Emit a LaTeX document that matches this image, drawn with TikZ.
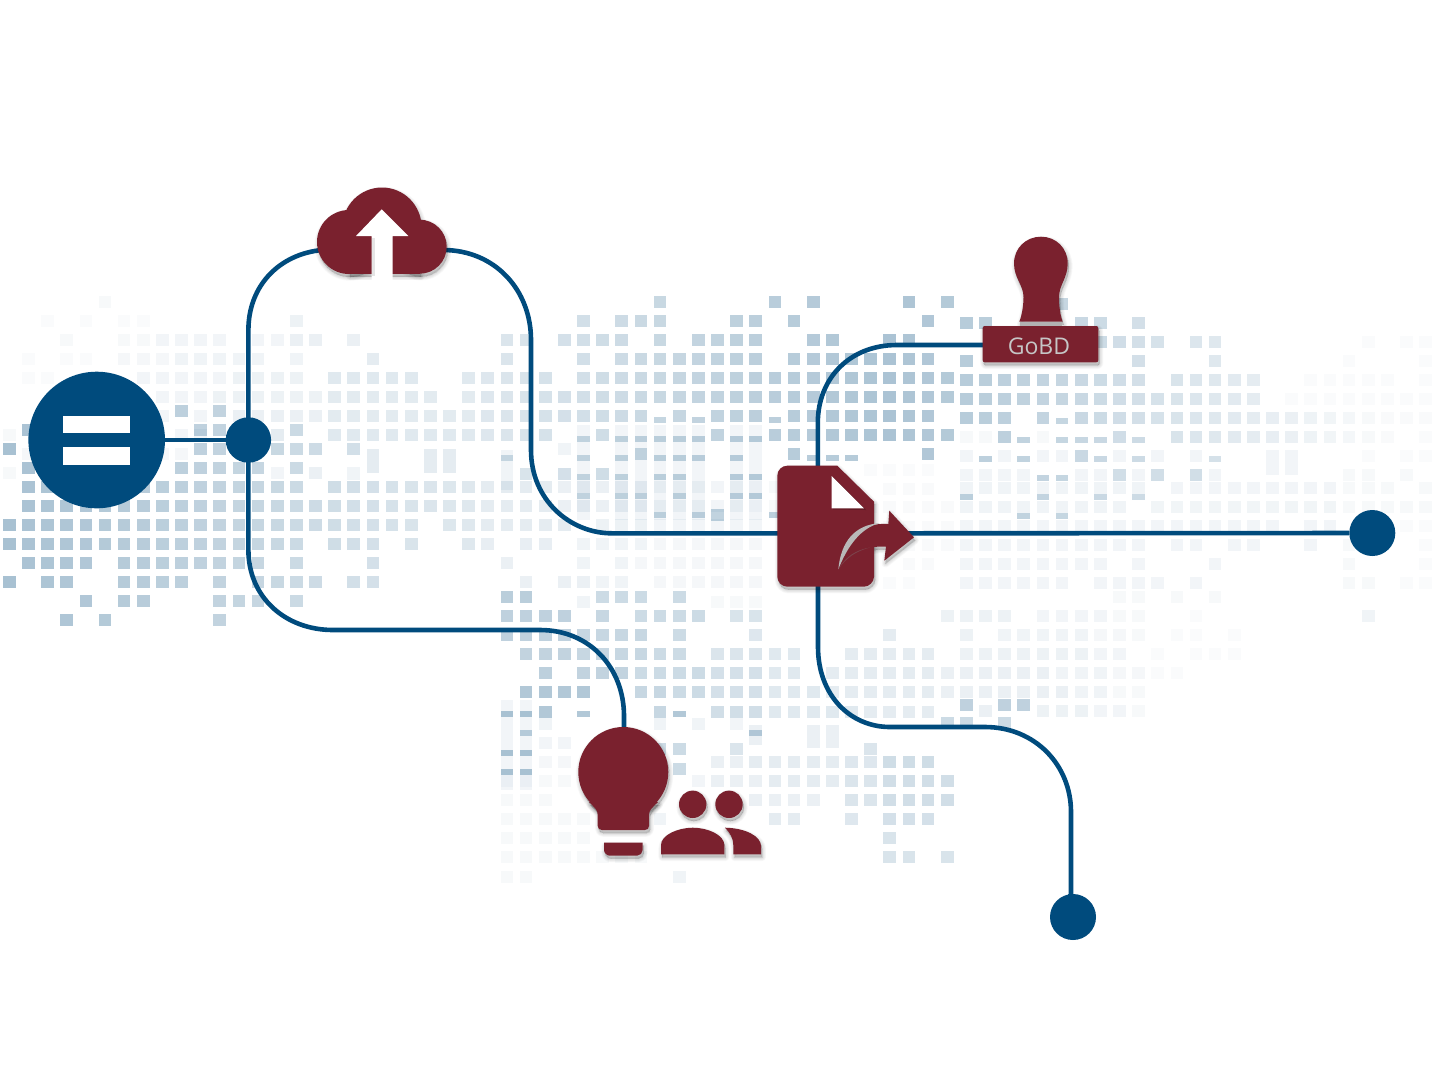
\documentclass[tikz,border=0pt]{standalone}
\usepackage{fontspec}
\newfontfamily\stampfont{Open Sans}
\definecolor{bm}{HTML}{004B7D}
\definecolor{wine}{HTML}{7A212E}
\tikzset{
  hubnode/.style={circle,fill=bm,inner sep=0pt,minimum size=#1},
  wire/.style={draw=bm,line width=4.6pt},
}
\newcommand{\sqR}[3]{\foreach \kk in {#3}{\pgfmathsetmacro{\xx}{9.3+19.14*\kk}\fill[bm,opacity=#2] (\xx-6.35,#1-6.35) rectangle ++(12.7,12.7);}}
\newcommand{\rowL}[2]{\foreach \kk in {#2}{\pgfmathsetmacro{\xx}{9.3+19.14*\kk}\pgfmathsetmacro{\oo}{.34-.009*\kk}\fill[bm,opacity=\oo] (\xx-6.35,#1-6.35) rectangle ++(12.7,12.7);}}
\newcommand{\rowC}[2]{\foreach \kk in {#2}{\pgfmathsetmacro{\xx}{9.3+19.14*\kk}\pgfmathsetmacro{\oo}{max(.025,.33-(\kk<46?.0095:.012)*abs(\kk-46))}\fill[bm,opacity=\oo] (\xx-6.35,#1-6.35) rectangle ++(12.7,12.7);}}
\newcommand{\slv}[2]{\foreach \kk in {#2}{\pgfmathsetmacro{\xx}{9.3+19.14*\kk}\pgfmathsetmacro{\oo}{max(.12,.30-(\kk<46?.006:.008)*abs(\kk-46))}\fill[bm,opacity=\oo] (\xx-6.35,#1-3) rectangle ++(12.7,6);}}
\newcommand{\tallc}[4]{\foreach \kk in {#4}{\pgfmathsetmacro{\xx}{9.3+19.14*\kk}\fill[bm,opacity=#3] (\xx-6.35,#1) rectangle (\xx+6.35,#2);}}
\newcommand{\shadowof}[1]{\foreach \w in {0,1.5,3,4.5,6,7.5}{\path[fill=black,draw=black,line width=\w pt,opacity=.028,line join=round,shift={(1.2,3)}] #1;}}
\newcommand{\solid}[1]{\path[fill=wine] #1;}
\begin{document}
\begin{tikzpicture}[x=1pt,y=-1pt]
\useasboundingbox (0,0) rectangle (1440,1080);
\fill[white] (0,0) rectangle (1440,1080);
% ---- left faint layer
\sqR{302}{.03}{5}
\sqR{321}{.02}{2,4,6,7}\sqR{321}{.07}{15}
\sqR{340}{.03}{3,6,7}\sqR{340}{.05}{8,9,10,11,13,14}\sqR{340}{.08}{15,16,18}
\sqR{359}{.02}{1,3,4}\sqR{359}{.04}{6,7,8}\sqR{359}{.06}{9,10,11,12,13,15}\sqR{359}{.1}{19}
\sqR{378}{.02}{1,2}\sqR{378}{.05}{7,8,9,10,11}\sqR{378}{.07}{12,13,14,15}\sqR{378}{.12}{17,18,19,20,21,24}
\sqR{397}{.05}{8,9,10}\sqR{397}{.07}{11,...,16}\sqR{397}{.11}{17,...,22,24}
\sqR{416}{.05}{8,10}\sqR{416}{.08}{12,13,14,15,16}\sqR{416}{.11}{17,...,24}
\sqR{435}{.03}{0}\sqR{435}{.05}{9,10}\sqR{435}{.1}{14}\sqR{435}{.12}{17,...,24}
\sqR{454}{.04}{1,8,9}
\sqR{473}{.03}{0}\sqR{473}{.05}{14}\sqR{473}{.08}{16}
\tallc{449}{473}{.1}{19,22,23}\tallc{467}{480}{.06}{18}
% ---- left dark layer
\rowL{411}{9,11}
\rowL{430}{1,10,11,15}
\rowL{449}{0,10,11,12,14,15,16,18}
\rowL{468}{1,9,10,11,12,13,15}
\rowL{487}{1,...,15}\rowL{487}{17,...,24}
\rowL{506}{1,...,24}
\rowL{525}{0,...,21,23,24}
\rowL{544}{0,...,15,17,18,19,21,24}
\rowL{563}{1,2,3,4,6,7,8,9,10,11,12,13,15,19}
\rowL{582}{0,2,3,6,7,8,9,11,13,14,15,16,18,19}
\rowL{601}{4,6,7,11,12,13,15}
\rowL{620}{3,5,11}
% ---- central upper
\rowC{302}{34,40,42,47,49}
\rowC{321}{30,32,33,34,38,39,41,48}
\rowC{340}{26,27,29,30,31,32,34,36,37,38,39,42,43,46,47}
\rowC{359}{26,30,32,33,34,35,36,37,38,39}\rowC{359}{41,...,48}
\rowC{378}{25,...,28}\rowC{378}{30,...,49}
\rowC{397}{25,...,49}
\rowC{416}{25,...,33,35,37,38,39}\rowC{416}{41,...,48}
\slv{420}{34,36,40}
\rowC{435}{25,26,27,28,31,37}\rowC{435}{40,...,49}
\slv{439}{30,32,33,34,35,36,38,39}
\rowC{454}{33,41,48}
\slv{458}{26,30,32,34,35,36,38,42,43,44}
\rowC{474}{27,29,31}
\slv{477}{30,32,34,35,38,39}
\slv{496}{30,32,33,35,38,39}
\slv{515}{34,36,40}\rowC{515}{37}
\tallc{425}{520}{.05}{30,32,33,34,35,36,38,39}\tallc{450}{490}{.06}{26}
\sqR{449}{.06}{29}
% ---- central faint
\sqR{487}{.1}{25,...,28}\sqR{487}{.08}{29,...,33}\sqR{487}{.05}{34,...,38}\sqR{487}{.03}{39,...,42}
\sqR{506}{.1}{25,...,28}\sqR{506}{.08}{29,...,33}\sqR{506}{.05}{34,...,38}\sqR{506}{.03}{39,...,42}
\sqR{525}{.1}{25,...,29}\sqR{525}{.07}{31,32,33}\sqR{525}{.05}{34,...,39}
\sqR{544}{.09}{25,27,28}\sqR{544}{.06}{30,...,33}\sqR{544}{.04}{34,...,39}
\sqR{563}{.08}{26}\sqR{563}{.06}{30,32}\sqR{563}{.04}{33,...,39}
\sqR{582}{.08}{27,29,30}\sqR{582}{.06}{31,32}\sqR{582}{.04}{34,...,39}
\sqR{470}{.02}{45,46,47,48}\sqR{489}{.025}{46,47,48}\sqR{507}{.025}{45,...,49}
\sqR{527}{.025}{46,...,49}\sqR{545}{.025}{47,48,49}\sqR{564}{.025}{47,48}\sqR{583}{.02}{46,47}
% ---- central lower
\sqR{597}{.27}{26,27}\sqR{597}{.2}{31,32,33,35}\sqR{602}{.06}{30}\sqR{602}{.03}{37,38,39}
\sqR{616}{.25}{26,27,28,29}\sqR{616}{.22}{31}\sqR{616}{.2}{33,34,35,36}\sqR{616}{.15}{38,39}
\sqR{635}{.25}{26,27,28,29}\sqR{635}{.22}{30,31,32,33}\sqR{635}{.2}{35}\sqR{635}{.13}{39}\sqR{635}{.1}{46}
\sqR{654}{.24}{27,28,29}\sqR{654}{.22}{30,...,33}\sqR{654}{.2}{34,35}\sqR{654}{.14}{37,38,39}\sqR{654}{.12}{40,41}\sqR{654}{.1}{44,...,48}
\sqR{673}{.26}{28}\sqR{673}{.24}{30,31,32}\sqR{673}{.2}{33,...,36}\sqR{673}{.17}{37,38,39}\sqR{673}{.12}{40,41}\sqR{673}{.1}{43,...,48}
\sqR{692}{.3}{27,28,29,30}\sqR{692}{.22}{33,34}\sqR{692}{.2}{35,36}\sqR{692}{.17}{37,38,39}\sqR{692}{.12}{40,41,42}\sqR{692}{.1}{43,...,48}
\sqR{712}{.3}{28}\sqR{712}{.22}{34}\sqR{712}{.18}{37,38,39}\sqR{712}{.12}{40,...,44}\sqR{712}{.1}{45,...,48}
\foreach \yy in {714,753,772}{\foreach \kk in {26,27}{\pgfmathsetmacro{\xx}{9.3+19.14*\kk}\fill[bm,opacity=.3] (\xx-6.35,\yy-3) rectangle ++(12.7,6);}}
\foreach \kk in {30,35}{\pgfmathsetmacro{\xx}{9.3+19.14*\kk}\fill[bm,opacity=.3] (\xx-6.35,711) rectangle ++(12.7,6);}
\foreach \kk in {27,39}{\pgfmathsetmacro{\xx}{9.3+19.14*\kk}\fill[bm,opacity=.25] (\xx-6.35,730) rectangle ++(12.7,6);}
\tallc{700}{790}{.05}{26,27}
\sqR{724}{.06}{28,34,36}\sqR{724}{.05}{38}
\sqR{743}{.05}{28,29}\tallc{725}{748}{.08}{42,43}
\sqR{749}{.2}{34,35}\sqR{749}{.14}{38,45}\tallc{725}{745}{.08}{39}
\sqR{762}{.04}{28,29}\sqR{762}{.08}{37,38}\sqR{762}{.1}{39,...,43}\sqR{762}{.13}{44,45}\sqR{762}{.19}{46,47,48}
\sqR{769}{.2}{35}
\sqR{781}{.03}{26,...,29}\sqR{781}{.05}{36}\sqR{781}{.08}{37,38,39}\sqR{781}{.1}{40,...,43}\sqR{781}{.14}{44,45}\sqR{781}{.18}{46,...,49}
\sqR{800}{.03}{26,27,28}\sqR{800}{.08}{39,...,42}\sqR{800}{.14}{44,45}\sqR{800}{.18}{46,...,49}
\sqR{819}{.03}{26,...,30}\sqR{819}{.06}{34}\sqR{819}{.1}{40,41}\sqR{819}{.13}{44}\sqR{819}{.17}{46,47,48}
\sqR{838}{.03}{26,...,30}\sqR{838}{.15}{46}
\sqR{857}{.03}{26,...,33}\sqR{857}{.15}{46,47,49}
\sqR{877}{.03}{26,27}\sqR{877}{.06}{35}
% ---- right block
\rowC{323}{50,51,56,57,59}\rowC{304}{55}
\rowC{342}{57,58,59,60,62,63}\sqR{342}{.02}{71,73,74}
\rowC{361}{50,59,63}\sqR{361}{.02}{70,74}
\rowC{380}{50,...,59}\rowC{380}{61,...,65}\sqR{380}{.02}{68,...,72,74}
\rowC{399}{50,...,65}\sqR{399}{.02}{67,...,74}
\rowC{418}{50,51,52,54}\rowC{418}{56,...,74}\slv{421}{55}
\rowC{437}{52,58}\rowC{437}{61,...,72}\slv{440}{53,55,56,57,59}\sqR{437}{.03}{50,51,54}\sqR{437}{.02}{74}
\rowC{456}{56}\slv{459}{51,53,57,59,63}\sqR{456}{.05}{50,52,54,55,58,60,62}\sqR{456}{.02}{71,73,74}
\sqR{475}{.18}{58,60,62}\slv{478}{54,55}\sqR{475}{.05}{50,51,52,53,56,57,59,63}\tallc{450}{475}{.05}{66,67}\sqR{475}{.03}{70,71,73}
\sqR{488}{.06}{50,...,59}\sqR{488}{.05}{61,...,69}\sqR{488}{.03}{70,71,72,74}
\slv{497}{50,54,57,59}
\sqR{507}{.06}{50,...,58}\sqR{507}{.055}{60,...,69}\sqR{507}{.03}{70,...,74}
\slv{516}{53,55}
\sqR{526}{.05}{50,...,66,68,69}\sqR{526}{.02}{73,74}
\sqR{545}{.05}{50,...,59,61,62,64,65,68}\sqR{545}{.03}{70}\sqR{545}{.02}{74}
\sqR{564}{.05}{50,...,57,59,63}\sqR{564}{.03}{70}\sqR{564}{.02}{74}
\sqR{583}{.05}{50,...,55,57,58,59,60,62}\sqR{583}{.03}{70,71}\sqR{583}{.02}{73,74}
\sqR{597}{.03}{58,59,61,63}
\sqR{616}{.07}{49,50,51,52}\sqR{616}{.05}{54,...,57}\sqR{616}{.03}{58,59}\sqR{616}{.02}{62}\sqR{616}{.06}{71}
\sqR{635}{.07}{50}\sqR{635}{.06}{52,...,56}\sqR{635}{.04}{57,58}\sqR{635}{.03}{59}\sqR{635}{.02}{61,62,64}
\sqR{654}{.07}{50,...,56}\sqR{654}{.05}{57,58}\sqR{654}{.02}{60,62,63,64}
\sqR{673}{.08}{49,...,54}\sqR{673}{.06}{55,56,57}\sqR{673}{.04}{58,59}\sqR{673}{.02}{60,61}
\sqR{692}{.08}{49,...,55}\sqR{692}{.06}{56,57}\sqR{692}{.03}{58,59}
\sqR{705}{.25}{50,52,53}
\sqR{711}{.08}{51}\sqR{711}{.07}{54,55,56}\sqR{711}{.05}{57,58}\sqR{711}{.03}{59}
\sqR{723}{.2}{49,50,52}
% ---- anchors on the icons
\coordinate (cloudL) at (322,250);
\coordinate (cloudR) at (443,250);
\coordinate (docL) at (780,533.3);
\coordinate (docR) at (905,533.3);
\coordinate (docT) at (817.8,470);
\coordinate (docB) at (818,584);
\coordinate (stampL) at (985,345);
\coordinate (bulbT) at (624,730);
% ---- nodes
\node[hubnode=136.6pt] (src) at (96.7,440) {};
\node[hubnode=45.4pt] (hub) at (248.4,440) {};
\node[hubnode=46pt] (endR) at (1372.3,533) {};
\node[hubnode=46pt] (endB) at (1073,917) {};
% ---- connectors
\draw[wire] (src) -- (hub);
\draw[wire] (hub.center) -- (248.4,330) .. controls (248.4,285) and (280,254) .. (cloudL);
\draw[wire] (cloudR) .. controls (495,250) and (531,290) .. (531,340) -- (531,450) .. controls (531,500) and (570,533.3) .. (612,533.3) -- (docL);
\draw[wire] (docR) -- (endR);
\draw[wire] (hub.center) -- (248.4,550) .. controls (248.4,597) and (285,630) .. (333,630) -- (540,630) .. controls (590,630) and (624,668) .. (624,716) -- (bulbT);
\draw[wire] (docB) -- (818,647) .. controls (818,695) and (850,727) .. (890,727) -- (985,727) .. controls (1035,727) and (1071,765) .. (1071,812) -- (1071,900) -- (endB);
\draw[wire] (docT) -- (817.8,423) .. controls (817.8,378) and (850,345) .. (897,345) -- (stampL);
% bars of the source node
\fill[white] (62.7,415.7) rectangle (130,433.3);
\fill[white] (62.7,447) rectangle (130,464.7);
% ---- cloud icon
\shadowof{(349,242) circle[radius=32]}
\shadowof{(382,227) circle[radius=39.5]}
\shadowof{(419.7,246.7) circle[radius=27]}
\shadowof{(349,240) rectangle (420,273.7)}
\solid{(349,242) circle[radius=32]}
\solid{(382,227) circle[radius=39.5]}
\solid{(419.7,246.7) circle[radius=27]}
\solid{(349,240) rectangle (420,273.7)}
\fill[white] (381.7,209.3) -- (408.3,236) -- (392.7,236) -- (392.7,284) -- (371.7,284) -- (371.7,236) -- (356,236) -- cycle;
\fill[black,opacity=.1] (371.7,238) rectangle (374.5,276);
% ---- document icon
\shadowof{(787.3,465.7) -- (837.3,465.7) -- (874,501.7) -- (874,576.7) .. controls (874,582) and (869,586.7) .. (864,586.7) -- (787.3,586.7) .. controls (782,586.7) and (777.3,582) .. (777.3,576.7) -- (777.3,475.7) .. controls (777.3,470) and (782,465.7) .. (787.3,465.7) -- cycle}
\shadowof{(914,537.3) -- (889.3,510.7) -- (888.3,524) .. controls (860,522) and (843,540) .. (838.3,569.3) .. controls (850,555) and (865,545) .. (886,546.7) -- (884.3,560.7) -- cycle}
\solid{(787.3,465.7) -- (837.3,465.7) -- (874,501.7) -- (874,576.7) .. controls (874,582) and (869,586.7) .. (864,586.7) -- (787.3,586.7) .. controls (782,586.7) and (777.3,582) .. (777.3,576.7) -- (777.3,475.7) .. controls (777.3,470) and (782,465.7) .. (787.3,465.7) -- cycle}
\fill[black,opacity=.18] (832.5,476) -- (866,510) -- (833,509.5) -- cycle;
\fill[white] (831.7,476) -- (864,508.3) -- (831.7,508.3) -- cycle;
\solid{(914,537.3) -- (889.3,510.7) -- (888.3,524) .. controls (860,522) and (843,540) .. (838.3,569.3) .. controls (850,555) and (865,545) .. (886,546.7) -- (884.3,560.7) -- cycle}
\fill[gray!55!white] (838.3,569.3) .. controls (841,541) and (855,525) .. (880,523) .. controls (861,528) and (848,545) .. (838.3,569.3) -- cycle;
\fill[gray!60!wine,opacity=.6] (838.3,569.3) .. controls (846,558) and (856,551) .. (870,547.5) .. controls (856,550) and (846,556) .. (838.3,569.3) -- cycle;
% ---- stamp icon
\shadowof{(1019.3,321.7) .. controls (1022,315) and (1023.5,305) .. (1023.5,297) .. controls (1023.5,285) and (1014,278) .. (1014,263.5) .. controls (1014,248) and (1026,236.7) .. (1041,236.7) .. controls (1056,236.7) and (1067.7,248) .. (1067.7,263.5) .. controls (1067.7,278) and (1059,285) .. (1059,297) .. controls (1059,305) and (1060,315) .. (1062.7,321.7) -- cycle}
\shadowof{(982.7,326) [rounded corners=2pt] rectangle (1098.3,362.3)}
\solid{(1019.3,321.7) .. controls (1022,315) and (1023.5,305) .. (1023.5,297) .. controls (1023.5,285) and (1014,278) .. (1014,263.5) .. controls (1014,248) and (1026,236.7) .. (1041,236.7) .. controls (1056,236.7) and (1067.7,248) .. (1067.7,263.5) .. controls (1067.7,278) and (1059,285) .. (1059,297) .. controls (1059,305) and (1060,315) .. (1062.7,321.7) -- cycle}
\fill[gray!60!white] (1020,321.7) rectangle (1062,326);
\solid{(982.7,326) [rounded corners=2pt] rectangle (1098.3,362.3)}
\node[text=gray!45!white,inner sep=0pt,font=\stampfont\fontsize{23pt}{24pt}\selectfont] (stamplabel) at (1039,346) {GoBD};
% ---- bulb and people icon
\shadowof{(623.3,772) circle[radius=45]}
\shadowof{(589,802) .. controls (595,808) and (597.7,810) .. (597.7,815) -- (597.7,826) .. controls (597.7,828.5) and (599.5,830) .. (602,830) -- (645,830) .. controls (647.5,830) and (649,828.5) .. (649,826) -- (649,815) .. controls (649,810) and (652,808) .. (658,802) -- cycle}
\shadowof{(604,842.7) -- (642.7,842.7) -- (642.7,850) .. controls (642.7,853) and (640,855.7) .. (637,855.7) -- (610,855.7) .. controls (607,855.7) and (604,853) .. (604,850) -- cycle}
\shadowof{(692.7,804.3) circle[radius=13.7]}
\shadowof{(729,804.3) circle[radius=13.7]}
\shadowof{(661,854.3) -- (661,845) .. controls (661,835) and (678,827.7) .. (692.7,827.7) .. controls (708,827.7) and (724.3,835) .. (724.3,845) -- (724.3,854.3) -- cycle}
\shadowof{(725,827.7) .. controls (745,828) and (761,836) .. (761,846) -- (761,854.3) -- (733.3,854.3) -- (733.3,845) .. controls (733.3,838) and (730,833) .. (725,827.7) -- cycle}
\solid{(623.3,772) circle[radius=45]}
\solid{(589,802) .. controls (595,808) and (597.7,810) .. (597.7,815) -- (597.7,826) .. controls (597.7,828.5) and (599.5,830) .. (602,830) -- (645,830) .. controls (647.5,830) and (649,828.5) .. (649,826) -- (649,815) .. controls (649,810) and (652,808) .. (658,802) -- cycle}
\solid{(604,842.7) -- (642.7,842.7) -- (642.7,850) .. controls (642.7,853) and (640,855.7) .. (637,855.7) -- (610,855.7) .. controls (607,855.7) and (604,853) .. (604,850) -- cycle}
\solid{(692.7,804.3) circle[radius=13.7]}
\solid{(729,804.3) circle[radius=13.7]}
\solid{(661,854.3) -- (661,845) .. controls (661,835) and (678,827.7) .. (692.7,827.7) .. controls (708,827.7) and (724.3,835) .. (724.3,845) -- (724.3,854.3) -- cycle}
\solid{(725,827.7) .. controls (745,828) and (761,836) .. (761,846) -- (761,854.3) -- (733.3,854.3) -- (733.3,845) .. controls (733.3,838) and (730,833) .. (725,827.7) -- cycle}
\end{tikzpicture}
\end{document}
